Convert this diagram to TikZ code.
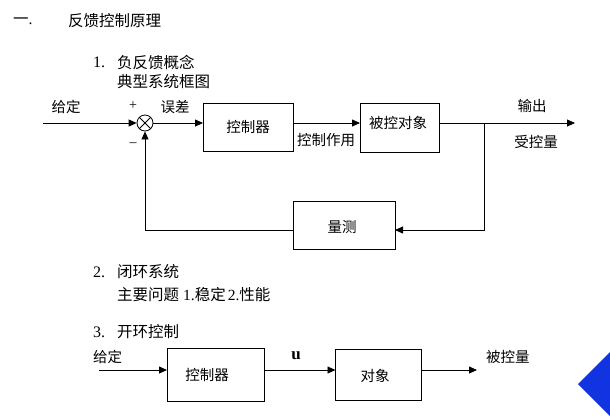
\documentclass[tikz,border=0pt]{standalone}
\usepackage{fontspec}
\setmainfont{Liberation Serif}
\newfontfamily\cjk{Noto Sans CJK SC}
\usetikzlibrary{arrows.meta}
\definecolor{slideblue}{RGB}{18,52,224}
\begin{document}
\begin{tikzpicture}[
    x=1pt, y=-1pt,
    blockstyle/.style={
       rectangle, draw=black, fill=none,
       line width=0.8pt, inner sep=0pt, outer sep=0pt
        },
    labelstyle/.style={inner sep=0pt, font=\cjk\fontsize{14.5}{16}\selectfont},
    headstyle/.style={inner sep=0pt, anchor=west, font=\cjk\fontsize{15.5}{18}\selectfont},
    numstyle/.style={inner sep=0pt, anchor=west, font=\fontsize{16}{18}\selectfont},
    signstyle/.style={inner sep=0pt, font=\fontsize{14}{14}\selectfont},
    signal/.style={-{Triangle[length=8pt,width=7pt]}, line width=0.8pt},
    wire/.style={line width=0.8pt}]
\clip (0,0) rectangle (610,416);

% headings
\node[headstyle] (h-0)  at (13,21)  {一{\rmfamily.}};
\node[headstyle] (t-0)  at (68,21)  {反馈控制原理};
\foreach [count=\j] \y/\txt in {62/负反馈概念,272/闭环系统,332/开环控制} {
   \node[numstyle]  (h-\j) at (93,\y)  {\j.};
   \node[headstyle] (t-\j) at (117,\y) {\txt};
  }
\node[headstyle] (t-1b) at (117,82) {典型系统框图};
\node[headstyle] (t-2b) at (117,295) {主要问题\hspace{4pt}{\rmfamily 1.}稳定\hspace{2pt}{\rmfamily 2.}性能};

% closed loop
\node[blockstyle, minimum width=90pt, minimum height=48pt] (ctrl)  at (248,127) {};
\node[blockstyle, minimum width=79pt, minimum height=49pt] (plant) at (399.5,127.5) {};
\node[blockstyle, minimum width=102pt, minimum height=48pt] (meas) at (344,225) {};
\node[circle, draw, line width=0.8pt, minimum size=16pt, inner sep=0pt] (sum) at (145,123) {};
\draw[wire] (sum.north west) -- (sum.south east);
\draw[wire] (sum.north east) -- (sum.south west);

\node[labelstyle] (l-ctrl)  at (248,127) {控制器};
\node[labelstyle] (l-plant) at (398,123) {被控对象};
\node[labelstyle] (l-meas)  at (342,227) {量测};
\node[labelstyle] (l-in)    at (66,107)  {给定};
\node[labelstyle] (l-err)   at (175,107) {误差};
\node[labelstyle] (l-act)   at (326,140) {控制作用};
\node[labelstyle] (l-out)   at (532,106) {输出};
\node[labelstyle] (l-cv)    at (536,142) {受控量};
\node[signstyle] (plus)  at (133,106) {+};
\node[signstyle] (minus) at (133,145) {\textendash};

\coordinate (in1)    at (43,123);
\coordinate (out1)   at (575,123);
\coordinate (branch) at (484,123);
\coordinate (fb)     at (484,230);
\draw[signal] (in1) -- (sum.west);
\draw[signal] (sum.east) -- (sum -| ctrl.west);
\draw[signal] (sum -| ctrl.east) -- (sum -| plant.west);
\draw[signal] (sum -| plant.east) -- (out1);
\draw[signal] (branch) -- (fb) -- (fb -| meas.east);
\draw[signal] (fb -| meas.west) -- (fb -| sum) -- (sum.south);

% open loop
\node[blockstyle, minimum width=97pt, minimum height=53pt] (octrl) at (215.5,375) {};
\node[blockstyle, minimum width=86pt, minimum height=51pt] (obj)   at (378.5,375) {};
\node[labelstyle] (l-octrl) at (207,375) {控制器};
\node[labelstyle] (l-obj)   at (375,376) {对象};
\node[labelstyle, anchor=west] (l-in2) at (93,357) {给定};
\node[labelstyle, anchor=west] (l-out2) at (486,357) {被控量};
\node[inner sep=0pt, font=\bfseries\fontsize{17}{18}\selectfont] (l-u) at (296,356) {u};

\coordinate (in2)  at (99,370);
\coordinate (out2) at (477,370);
\draw[signal] (in2) -- (in2 -| octrl.west);
\draw[signal] (in2 -| octrl.east) -- (in2 -| obj.west);
\draw[signal] (in2 -| obj.east) -- (out2);

% slide corner
\fill[slideblue] (578,384) -- (610,352) -- (642,384) -- (610,416) -- cycle;
\end{tikzpicture}
\end{document}
